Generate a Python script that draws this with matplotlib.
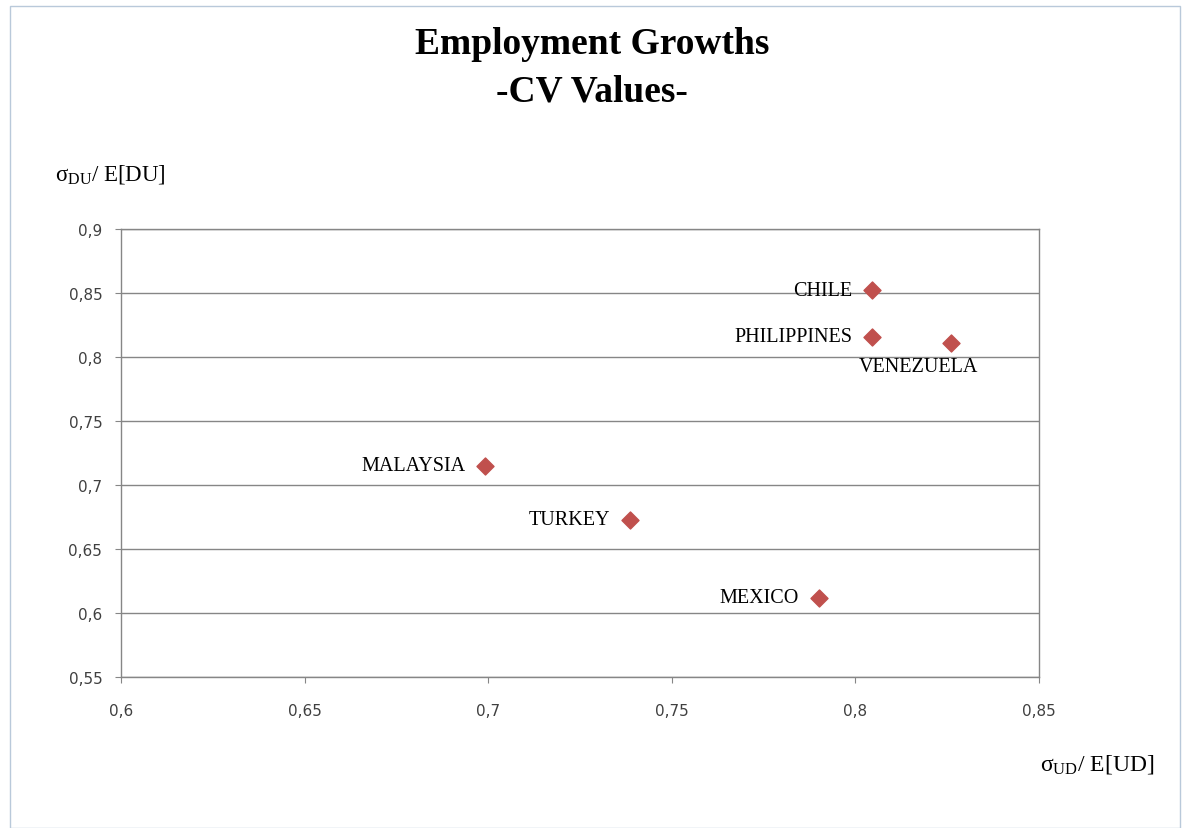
import matplotlib.pyplot as plt
from matplotlib.patches import Rectangle
from matplotlib.ticker import FuncFormatter

countries = ['CHILE', 'PHILIPPINES', 'VENEZUELA', 'MALAYSIA', 'TURKEY', 'MEXICO']
cv_ud = [0.8045, 0.8045, 0.826, 0.699, 0.7386, 0.790]
cv_du = [0.852, 0.816, 0.811, 0.715, 0.673, 0.612]
x_ticks = [0.6, 0.65, 0.7, 0.75, 0.8, 0.85]
y_ticks = [0.55, 0.6, 0.65, 0.7, 0.75, 0.8, 0.85, 0.9]

plt.rcParams['font.family'] = ['Liberation Serif', 'DejaVu Serif']
plt.rcParams['mathtext.fontset'] = 'custom'
plt.rcParams['mathtext.rm'] = 'Liberation Serif'
plt.rcParams['mathtext.it'] = 'Liberation Serif'

fig = plt.figure(figsize=(11.84, 8.29), dpi=100)
fig.patches.append(Rectangle((10 / 1184, 0), 1170 / 1184, 822 / 829, transform=fig.transFigure,
                             fill=False, edgecolor='#b9c9da', linewidth=1))
ax = fig.add_axes([121 / 1184, 1 - 678 / 829, 918 / 1184, 448 / 829])

ax.scatter(cv_ud, cv_du, marker='D', s=75, color='#c0504d', zorder=3)

ax.set_xlim(0.6, 0.85)
ax.set_ylim(0.55, 0.9)
ax.set_xticks(x_ticks)
ax.set_yticks(y_ticks)
comma = FuncFormatter(lambda v, p: f'{v:g}'.replace('.', ','))
ax.xaxis.set_major_formatter(comma)
ax.yaxis.set_major_formatter(comma)
for lab in ax.get_xticklabels() + ax.get_yticklabels():
    lab.set_family('DejaVu Sans')
ax.tick_params(labelsize=11, colors='#868686', labelcolor='#404040', length=4.5)
ax.tick_params(axis='x', pad=14)
ax.tick_params(axis='y', pad=9)
ax.grid(axis='y', color='#868686', linewidth=1)
ax.set_axisbelow(True)
for s in ax.spines.values():
    s.set_color('#868686')
    s.set_linewidth(1)

for name, x, y in zip(countries, cv_ud, cv_du):
    if name == 'VENEZUELA':
        ax.annotate(name, (x, y), xytext=(-23, -10), textcoords='offset points',
                    ha='center', va='top', fontsize=14.5)
    else:
        ax.annotate(name, (x, y), xytext=(-14, 0), textcoords='offset points',
                    ha='right', va='center', fontsize=14.5)

fig.text(0.5, 1 - 45 / 829, 'Employment Growths', ha='center', va='center',
         fontsize=27, fontweight='bold')
fig.text(0.5, 1 - 92 / 829, '-CV Values-', ha='center', va='center',
         fontsize=27, fontweight='bold')
fig.text(55 / 1184, 1 - 175 / 829, r'$\mathregular{\sigma_{DU}}$/ E[DU]', ha='left', va='center',
         fontsize=16.5)
fig.text(1040 / 1184, 1 - 765 / 829, r'$\mathregular{\sigma_{UD}}$/ E[UD]', ha='left', va='center',
         fontsize=17)

fig.savefig('out.png', dpi=100)
